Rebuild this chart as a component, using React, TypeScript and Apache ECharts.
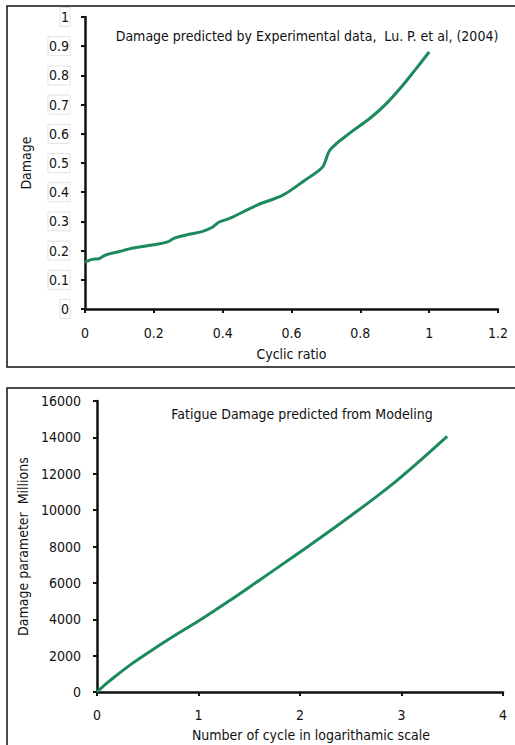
import React, { useEffect, useRef } from "react";
import * as echarts from "echarts";

const titleTop = "Damage predicted by Experimental data,  Lu. P. et al, (2004)";
const titleBottom = "Fatigue Damage predicted from Modeling";

const cyclicRatio = [0, 0.02, 0.04, 0.06, 0.1, 0.14, 0.2, 0.24, 0.26, 0.3, 0.34, 0.37, 0.39, 0.42, 0.5, 0.575, 0.64, 0.69, 0.712, 0.77, 0.83, 0.877, 0.924, 0.96, 1.0];
const damage = [0.16, 0.17, 0.172, 0.185, 0.197, 0.209, 0.22, 0.23, 0.243, 0.255, 0.265, 0.28, 0.298, 0.31, 0.356, 0.39, 0.442, 0.486, 0.545, 0.603, 0.655, 0.705, 0.767, 0.82, 0.88];

const logCycles = [0, 0.1, 0.2, 0.355, 0.5, 0.75, 1, 1.3, 1.6, 1.93, 2.2, 2.49, 2.75, 2.96, 3.2, 3.45];
const damageParam = [0, 500, 950, 1600, 2150, 3050, 3900, 5000, 6150, 7420, 8480, 9650, 10730, 11650, 12800, 14050];

const FONT = "'DejaVu Sans Condensed', 'Liberation Sans Narrow', sans-serif";
const GREEN = "#1d8a5c";
const INK = "#111";

export default function App() {
  const ref = useRef<HTMLDivElement>(null);
  useEffect(() => {
    if (!ref.current) return;
    const chart = echarts.init(ref.current, null, { renderer: "svg" });
    const axisLine = { lineStyle: { color: INK, width: 2.5 } };
    const axisTick = { show: true, inside: false, length: 4, lineStyle: { color: INK, width: 2 } };
    const label = { color: INK, fontFamily: FONT, fontSize: 14 };
    const plain = (v: number) => String(v);
    chart.setOption({
      animation: false,
      backgroundColor: "#fff",
      textStyle: { fontFamily: FONT },
      title: [
        {
          text: titleTop,
          left: 302,
          top: 24,
          textAlign: "center",
          textStyle: { fontFamily: FONT, fontSize: 14, fontWeight: "normal", color: INK },
        },
        {
          text: titleBottom,
          left: 297,
          top: 402,
          textAlign: "center",
          textStyle: { fontFamily: FONT, fontSize: 14, fontWeight: "normal", color: INK },
        },
      ],
      graphic: [
        { type: "rect", shape: { x: 7, y: 6, width: 520, height: 361 }, style: { fill: "none", stroke: INK, lineWidth: 1.5 }, silent: true },
        { type: "rect", shape: { x: 7, y: 388, width: 520, height: 380 }, style: { fill: "none", stroke: INK, lineWidth: 1.5 }, silent: true },
      ],
      grid: [
        { left: 85, right: 17, top: 17, bottom: 436, containLabel: false },
        { left: 97, right: 12, top: 401, bottom: 53, containLabel: false },
      ],
      xAxis: [
        {
          type: "value",
          gridIndex: 0,
          min: 0,
          max: 1.2,
          interval: 0.2,
          splitLine: { show: false },
          axisLine,
          axisTick,
          axisLabel: { ...label, margin: 17, formatter: plain },
          name: "Cyclic ratio",
          nameLocation: "middle",
          nameGap: 38,
          nameTextStyle: { ...label },
        },
        {
          type: "value",
          gridIndex: 1,
          min: 0,
          max: 4,
          interval: 1,
          splitLine: { show: false },
          axisLine,
          axisTick,
          axisLabel: { ...label, margin: 16, formatter: plain },
          name: "Number of cycle in logarithamic scale",
          nameLocation: "middle",
          nameGap: 36,
          nameTextStyle: { ...label, padding: [0, 0, 0, 22] },
        },
      ],
      yAxis: [
        {
          type: "value",
          gridIndex: 0,
          min: 0,
          max: 1,
          interval: 0.1,
          splitLine: { show: false },
          axisLine,
          axisTick,
          axisLabel: {
            ...label,
            margin: 15,
            formatter: plain,
            borderColor: "#e2e2e2",
            borderWidth: 1,
            padding: [3, 1, 2, 1],
          },
          name: "Damage",
          nameLocation: "middle",
          nameGap: 52,
          nameTextStyle: { ...label },
        },
        {
          type: "value",
          gridIndex: 1,
          min: 0,
          max: 16000,
          interval: 2000,
          splitLine: { show: false },
          axisLine,
          axisTick,
          axisLabel: { ...label, margin: 16, formatter: plain },
          name: "Damage parameter  Millions",
          nameLocation: "middle",
          nameGap: 63,
          nameTextStyle: { ...label },
        },
      ],
      series: [
        {
          type: "line",
          xAxisIndex: 0,
          yAxisIndex: 0,
          data: cyclicRatio.map((x, i) => [x, damage[i]]),
          smooth: 0.3,
          showSymbol: false,
          lineStyle: { color: GREEN, width: 3 },
        },
        {
          type: "line",
          xAxisIndex: 1,
          yAxisIndex: 1,
          data: logCycles.map((x, i) => [x, damageParam[i]]),
          smooth: 0.3,
          showSymbol: false,
          lineStyle: { color: GREEN, width: 3 },
        },
      ],
    });
    return () => chart.dispose();
  }, []);
  return (
    <div
      ref={ref}
      style={{ position: "fixed", left: 0, top: 0, width: 515, height: 745, background: "#fff" }}
    />
  );
}
